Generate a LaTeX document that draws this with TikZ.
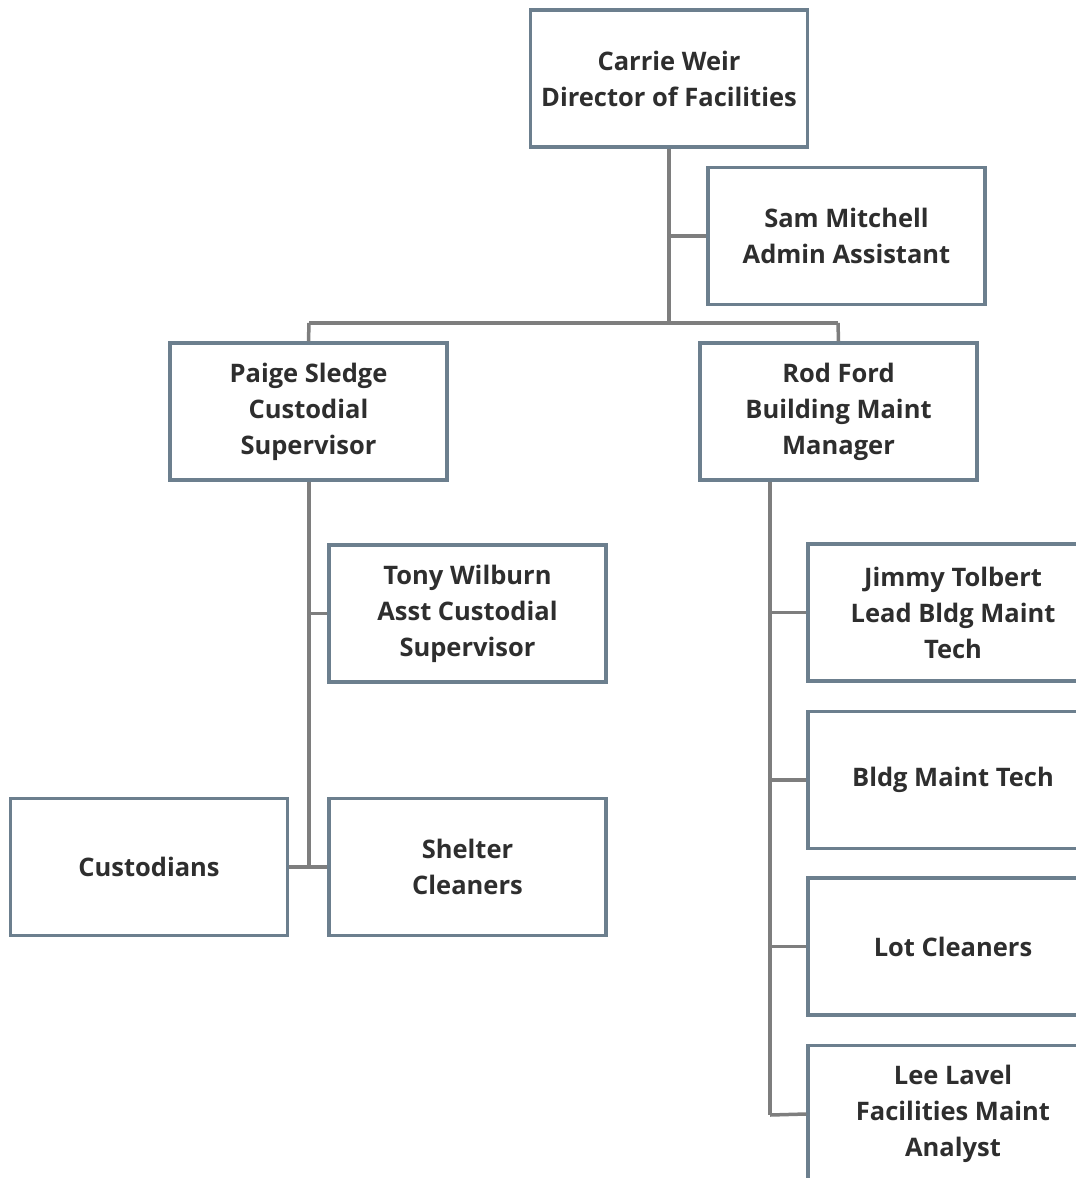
\documentclass[tikz,border=0pt]{standalone}
\usepackage{fontspec}
\setmainfont{Open Sans}
\begin{document}
\begin{tikzpicture}[x=1pt,y=-1pt,
  box/.style={draw=boxc, line width=3.5pt, fill=white, minimum width=277pt, minimum height=137pt,
    align=center, inner sep=0pt, text=txtc, font=\fontsize{25.5}{36}\selectfont\bfseries},
  wbox/.style={box, minimum width=290pt},
  link/.style={draw=linec, line width=3.5pt}]
\definecolor{boxc}{HTML}{6C7F8E}
\definecolor{linec}{HTML}{7E7E7E}
\definecolor{txtc}{HTML}{2E2E2E}
\useasboundingbox (0,0) rectangle (1076,1178);
\clip (0,0) rectangle (1076,1178);
% connectors
\coordinate (bus) at (669,323);
\coordinate (busL) at (309,323);
\coordinate (busR) at (838,323);
\coordinate (pv) at (309,866);
\coordinate (rv) at (770,1115);
\node[box] (carrie) at (669,78.5) {Carrie Weir\\Director of Facilities};
\node[box] (sam) at (846.5,236) {Sam Mitchell\\Admin Assistant};
\node[box] (paige) at (308.5,411.5) {Paige Sledge\\Custodial\\Supervisor};
\node[box] (rod) at (838.5,411.5) {Rod Ford\\Building Maint\\Manager};
\node[box] (tony) at (467.5,613.5) {Tony Wilburn\\Asst Custodial\\Supervisor};
\node[box] (cust) at (149,867) {Custodians};
\node[box] (shelter) at (467.5,867) {Shelter\\Cleaners};
\node[wbox] (jimmy) at (953,612.5) {Jimmy Tolbert\\Lead Bldg Maint\\Tech};
\node[wbox] (bmt) at (953,780) {Bldg Maint Tech};
\node[wbox] (lot) at (953,946.5) {Lot Cleaners};
\node[wbox] (lee) at (953,1114) {Lee Lavel\\Facilities Maint\\Analyst};
\draw[link] (carrie.south) -- (bus);
\draw[link] (carrie.south |- sam.west) -- (sam.west);
\draw[link] (busL) -- (busR);
\draw[link] (busL) -- (paige.north);
\draw[link] (busR) -- (rod.north);
\draw[link] (paige.south -| busL) -- (pv);
\draw[link] (pv |- tony.west) -- (tony.west);
\draw[link] (cust.east) -- (shelter.west);
\draw[link] (rod.south -| rv) -- (rv);
\draw[link] (rv |- jimmy.west) -- (jimmy.west);
\draw[link] (rv |- bmt.west) -- (bmt.west);
\draw[link] (rv |- lot.west) -- (lot.west);
\draw[link] (rv) -- (lee.west);
\end{tikzpicture}
\end{document}
